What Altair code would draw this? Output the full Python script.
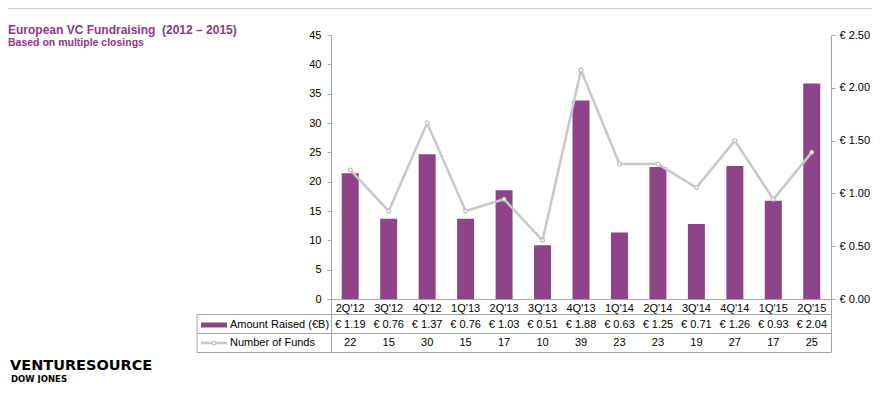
import altair as alt
import pandas as pd

quarters = ["2Q'12", "3Q'12", "4Q'12", "1Q'13", "2Q'13", "3Q'13", "4Q'13",
            "1Q'14", "2Q'14", "3Q'14", "4Q'14", "1Q'15", "2Q'15"]
amounts = [1.19, 0.76, 1.37, 0.76, 1.03, 0.51, 1.88, 0.63, 1.25, 0.71, 1.26, 0.93, 2.04]
funds = [22, 15, 30, 15, 17, 10, 39, 23, 23, 19, 27, 17, 25]
left_ticks = [0, 5, 10, 15, 20, 25, 30, 35, 40, 45]
right_ticks = [0, 0.5, 1.0, 1.5, 2.0, 2.5]

df = pd.DataFrame({
    "Quarter": quarters,
    "Amount": amounts,
    "Funds": funds,
    "AmtLabel": [f"€ {a:.2f}" for a in amounts],
})
one = pd.DataFrame({"k": [0]})

PURPLE = "#8E4488"
TITLE_PURPLE = "#8B3A86"
LINE_GRAY = "#C8C8C8"
GRID = "#A6A6A6"
FONT = "Liberation Sans"

W, H = 500, 264

base = alt.Chart(df).encode(
    x=alt.X("Quarter:N", sort=quarters,
            scale=alt.Scale(paddingInner=0, paddingOuter=0),
            axis=alt.Axis(title=None, labelAngle=0, ticks=False, domainColor=GRID,
                          labelPadding=3, labelFontSize=11, labelColor="black",
                          labelFont=FONT))
)

bars = base.mark_bar(color=PURPLE, size=17).encode(
    y=alt.Y("Amount:Q", scale=alt.Scale(domain=[0, 2.5]),
            axis=alt.Axis(orient="right", title=None, values=right_ticks, grid=False,
                          labelExpr="'€ ' + format(datum.value, '.2f')",
                          tickSize=4, labelPadding=4, domainColor=GRID, tickColor=GRID,
                          labelFontSize=11, labelColor="black", labelFont=FONT))
)

line = base.mark_line(
    color=LINE_GRAY, strokeWidth=2.5,
    point=alt.OverlayMarkDef(filled=True, fill="white", stroke="#BDBDBD",
                             size=14, strokeWidth=1.2)
).encode(
    y=alt.Y("Funds:Q", scale=alt.Scale(domain=[0, 45]),
            axis=alt.Axis(orient="left", title=None, values=left_ticks, grid=False,
                          tickSize=4, labelPadding=6, domainColor=GRID, tickColor=GRID,
                          labelFontSize=11, labelColor="black", labelFont=FONT))
)

amt_text = base.mark_text(fontSize=11, font=FONT, color="black").encode(
    y=alt.value(290), text="AmtLabel:N")
funds_text = base.mark_text(fontSize=11, font=FONT, color="black").encode(
    y=alt.value(308), text="Funds:Q")


def hrule(x1, x2, y, color=GRID, width=1):
    return alt.Chart(one).mark_rule(color=color, strokeWidth=width).encode(
        x=alt.value(x1), x2=alt.value(x2), y=alt.value(y))


def vrule(x, y1, y2, color=GRID, width=1):
    return alt.Chart(one).mark_rule(color=color, strokeWidth=width).encode(
        x=alt.value(x), y=alt.value(y1), y2=alt.value(y2))


def label(text, x, y, size=11, color="black", weight="normal", font=FONT):
    return alt.Chart(one).mark_text(
        text=text, align="left", baseline="middle", fontSize=size, color=color,
        fontWeight=weight, font=font).encode(x=alt.value(x), y=alt.value(y))


table = [
    hrule(-134, 500, 279.5),
    hrule(-134, 500, 298.5),
    hrule(-134, 500, 317.5),
    vrule(-134, 279.5, 317.5),
    vrule(0.5, 264, 317.5),
    vrule(500.5, 264, 317.5),
]

legend_bar = alt.Chart(one).mark_rect(color=PURPLE).encode(
    x=alt.value(-130), x2=alt.value(-104), y=alt.value(287.5), y2=alt.value(292.5))
legend_line = hrule(-130, -104, 308, color=LINE_GRAY, width=2.5)
legend_pt = alt.Chart(one).mark_point(filled=True, fill="white", stroke="#BDBDBD",
                                       size=14, strokeWidth=1.2, opacity=1).encode(
    x=alt.value(-117), y=alt.value(308))

texts = [
    label("Amount Raised (€B)", -101, 290),
    label("Number of Funds", -101, 308),
    label("European VC Fundraising\u00a0 (2012 – 2015)", -323, -5, size=12,
          color=TITLE_PURPLE, weight="bold"),
    label("Based on multiple closings", -323, 8, size=10.5, color=TITLE_PURPLE,
          weight="bold"),
    label("VENTURESOURCE", -321, 331, size=14.5, color="black", weight="bold",
          font="DejaVu Sans"),
    label("DOW JONES", -320, 344, size=8.5, color="black", weight="bold",
          font="DejaVu Sans"),
]

top_line = hrule(-323, 546, -26.5, color="#D0D0D0", width=1)

chart = alt.layer(
    bars, line, amt_text, funds_text, *table, legend_bar, legend_line, legend_pt,
    *texts, top_line
).resolve_scale(y="independent").properties(
    width=W, height=H,
    autosize=alt.AutoSizeParams(type="none"),
    padding={"left": 323, "top": 27, "right": 41, "bottom": 84},
).configure_view(stroke=None)

chart.save("out.html", embed_options={"renderer": "svg", "actions": False})
